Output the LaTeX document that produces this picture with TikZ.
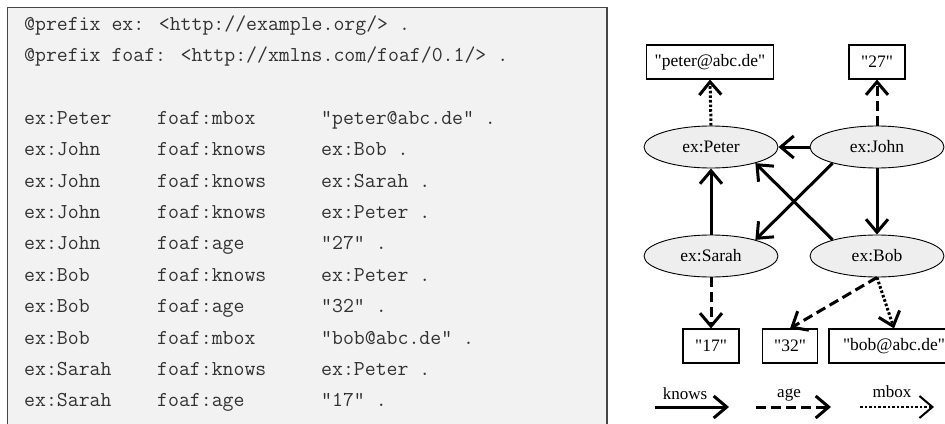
\documentclass[tikz,border=0pt]{standalone}
\usepackage{fontspec}
\usetikzlibrary{arrows.meta,shapes.geometric}

\newfontfamily\graphfont{Liberation Serif}

\definecolor{panelfill}{RGB}{242,242,242}
\definecolor{panelline}{RGB}{70,70,70}
\definecolor{codetext}{RGB}{50,50,50}
\definecolor{resfill}{RGB}{238,238,238}

\tikzset{
  code/.style={anchor=base west, inner sep=0pt, text=codetext,
    font=\ttfamily\fontsize{21.2}{24}\selectfont},
  res/.style={ellipse, draw, fill=resfill, line width=0.9,
    minimum width=134, minimum height=42, inner sep=0pt,
    font=\graphfont\fontsize{17.5}{20}\selectfont},
  lit/.style={rectangle, draw, line width=1.1, minimum height=34,
    inner sep=0pt, font=\graphfont\fontsize{17.5}{20}\selectfont},
  legendtext/.style={anchor=base, inner sep=0pt,
    font=\graphfont\fontsize{17}{20}\selectfont},
  link/.style={line width=3, -{Straight Barb[length=13pt,width=22pt]}},
  knowsarrow/.style={link},
  agearrow/.style={link, dash pattern=on 10pt off 5pt},
  mboxarrow/.style={link, dash pattern=on 2.6pt off 2pt},
}

\begin{document}
\begin{tikzpicture}[x=1pt, y=-1pt]
  \useasboundingbox (0,0) rectangle (945,423);

  % Turtle listing panel
  \fill[panelfill] (7,7) rectangle (607,430);
  \draw[panelline, line width=1] (7,430) -- (7,7) -- (607,7);
  \draw[panelline, line width=2] (607,7) -- (607,430);

  \node[code] (prefix1) at (24,30) {@prefix ex: <http://example.org/> .};
  \node[code] (prefix2) at (24,61.4) {@prefix foaf: <http://xmlns.com/foaf/0.1/> .};
  \foreach \subj/\pred/\obj [count=\n] in {
      ex:Peter/foaf:mbox/"peter@abc.de" .,
      ex:John/foaf:knows/ex:Bob .,
      ex:John/foaf:knows/ex:Sarah .,
      ex:John/foaf:knows/ex:Peter .,
      ex:John/foaf:age/"27" .,
      ex:Bob/foaf:knows/ex:Peter .,
      ex:Bob/foaf:age/"32" .,
      ex:Bob/foaf:mbox/"bob@abc.de" .,
      ex:Sarah/foaf:knows/ex:Peter .,
      ex:Sarah/foaf:age/"17" .} {
    \pgfmathsetmacro{\rowy}{124.2+(\n-1)*31.4}
    \node[code] (subj\n) at (24,\rowy) {\subj};
    \node[code] (pred\n) at (157,\rowy) {\pred};
    \node[code] (obj\n) at (321,\rowy) {\obj};
  }

  % Graph: resources
  \node[res] (peter) at (711,147) {ex:Peter};
  \node[res] (john)  at (877,147) {ex:John};
  \node[res] (sarah) at (711,256) {ex:Sarah};
  \node[res] (bob)   at (877,256) {ex:Bob};

  % Graph: literals
  \node[lit, minimum width=127] (petermail) at (710,62)  {"peter@abc.de"};
  \node[lit, minimum width=56]  (age27)     at (877,62)  {"27"};
  \node[lit, minimum width=56]  (age17)     at (711,346) {"17"};
  \node[lit, minimum width=55]  (age32)     at (790,346) {"32"};
  \node[lit, minimum width=130] (bobmail)   at (894,346) {"bob@abc.de"};

  % knows
  \draw[knowsarrow] (john.west) -- (peter.east);
  \draw[knowsarrow] (john.south) -- (bob.north);
  \draw[knowsarrow] (john.200) -- (sarah.20);
  \draw[knowsarrow] (bob.160) -- (peter.-20);
  \draw[knowsarrow] (sarah.north) -- (peter.south);

  % age
  \draw[agearrow] (john.north) -- (age27.south);
  \draw[agearrow] (sarah.south) -- (age17.north);
  \draw[agearrow] (bob.south) -- (age32.north);

  % mbox
  \draw[mboxarrow] (peter.north) -- (petermail.south);
  \draw[mboxarrow] (bob.south) -- (bobmail.north);

  % Legend
  \node[legendtext] (lknows) at (685,399) {knows};
  \node[legendtext] (lage)   at (789,397) {age};
  \node[legendtext] (lmbox)  at (892,397) {mbox};
  \coordinate (k0) at (655,407);
  \coordinate (k1) at (729,407);
  \coordinate (a0) at (756,407);
  \coordinate (a1) at (831,407);
  \coordinate (m0) at (860,407);
  \coordinate (m1) at (934,407);
  \draw[knowsarrow] (k0) -- (k1);
  \draw[agearrow] (a0) -- (a1);
  \draw[mboxarrow, line width=2] (m0) -- (m1);
\end{tikzpicture}
\end{document}
